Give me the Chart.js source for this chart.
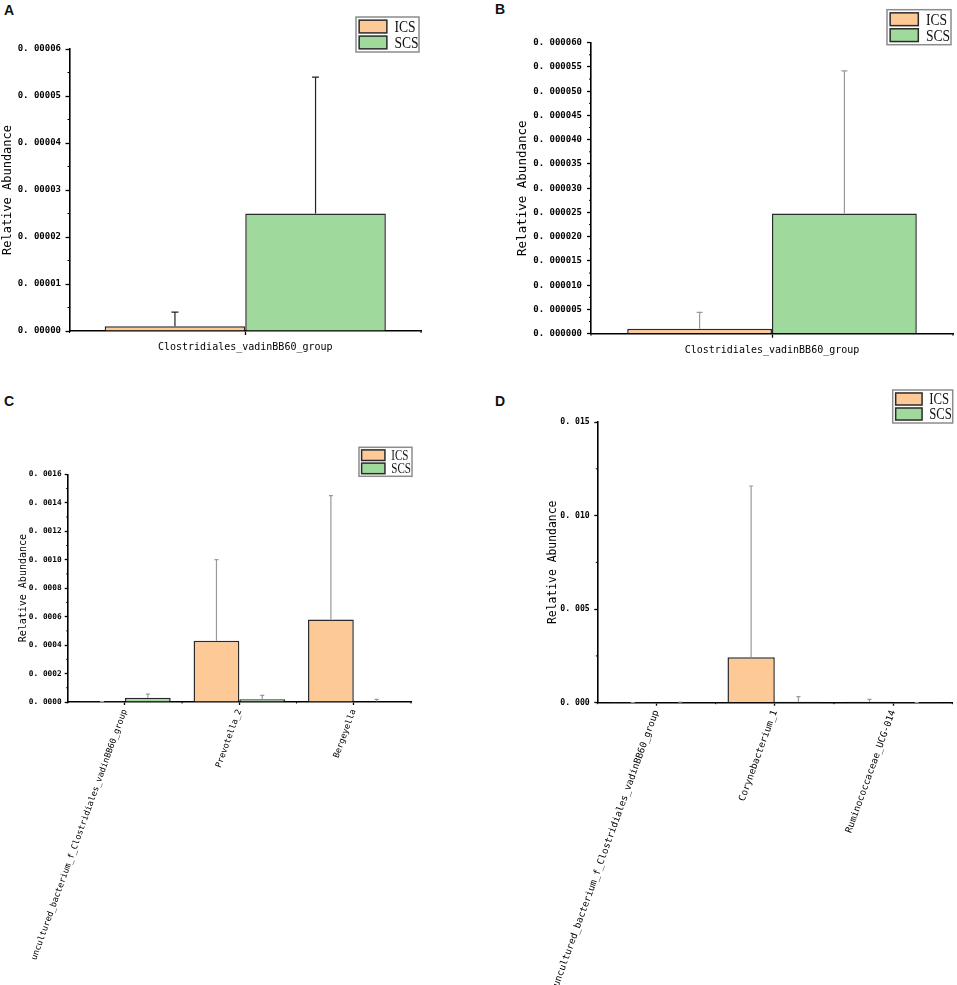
<!DOCTYPE html>
<html>
<head>
<meta charset="utf-8">
<script src="https://cdn.jsdelivr.net/npm/chart.js@4.4.1/dist/chart.umd.min.js"></script>
<style>
  html, body { margin: 0; padding: 0; background: #fff; }
  body { width: 957px; height: 985px; position: relative; overflow: hidden; }
  .panel { position: absolute; }
  .tag { position: absolute; font: bold 14px "Liberation Sans", Arial, sans-serif; line-height: 14px; color: #111; }
</style>
</head>
<body>
<div class="tag" style="left:4px;top:3px">A</div>
<div class="tag" style="left:495px;top:2px">B</div>
<div class="tag" style="left:4px;top:394px">C</div>
<div class="tag" style="left:495px;top:394px">D</div>

<div class="panel" style="left:0;top:0;width:478px;height:370px"><canvas id="chartA"></canvas></div>
<div class="panel" style="left:478px;top:0;width:479px;height:370px"><canvas id="chartB"></canvas></div>
<div class="panel" style="left:0;top:380px;width:478px;height:605px"><canvas id="chartC"></canvas></div>
<div class="panel" style="left:478px;top:380px;width:479px;height:605px"><canvas id="chartD"></canvas></div>

<script>
// panel A
const genusA = ['Clostridiales_vadinBB60_group'];
const icsA = [0.000001];
const icsErrA = [0.000003];
const scsA = [0.000025];
const scsErrA = [0.000029];

// panel B
const genusB = ['Clostridiales_vadinBB60_group'];
const icsB = [0.000001];
const icsErrB = [0.0000034];
const scsB = [0.0000248];
const scsErrB = [0.0000294];

// panel C
const genusC = ['uncultured_bacterium_f_Clostridiales_vadinBB60_group', 'Prevotella_2', 'Bergeyella'];
const icsC = [0.000001, 0.00043, 0.00058];
const icsErrC = [0.000001, 0.00057, 0.00087];
const scsC = [0.00003, 0.000019, 0.000003];
const scsErrC = [0.000026, 0.000028, 0.000016];

// panel D
const genusD = ['uncultured_bacterium_f_Clostridiales_vadinBB60_group', 'Corynebacterium_1', 'Ruminococcaceae_UCG-014'];
const icsD = [0.000005, 0.00243, 0.00005];
const icsErrD = [0.000005, 0.00915, 0.00013];
const scsD = [0.00002, 0.00005, 0.000005];
const scsErrD = [0.00001, 0.00027, 0.000005];

const MONO = '"DejaVu Sans Mono", monospace';
const ICS_FILL = '#fdc996';
const SCS_FILL = '#9fd99c';
const EDGE = '#2a2a2a';

const fmt = dec => v => v.toFixed(dec).replace('.', '. ');

// upward error bars from the bar top
Chart.register({
  id: 'errorBars',
  afterDatasetsDraw(chart, args, opts) {
    const { ctx } = chart;
    const y = chart.scales.y;
    chart.data.datasets.forEach((ds, i) => {
      chart.getDatasetMeta(i).data.forEach((bar, j) => {
        const top = y.getPixelForValue(ds.data[j] + ds.errors[j]);
        ctx.save();
        ctx.strokeStyle = opts.color;
        ctx.lineWidth = opts.width;
        ctx.beginPath();
        ctx.moveTo(bar.x, bar.y);
        ctx.lineTo(bar.x, top);
        ctx.moveTo(bar.x - opts.cap / 2, top);
        ctx.lineTo(bar.x + opts.cap / 2, top);
        ctx.stroke();
        ctx.restore();
      });
    });
  }
});

// half-step ticks on y, category boundary ticks on x
Chart.register({
  id: 'minorTicks',
  afterDraw(chart, args, opts) {
    const { ctx } = chart;
    const x = chart.scales.x, y = chart.scales.y;
    ctx.save();
    ctx.strokeStyle = '#000';
    ctx.lineWidth = 1;
    ctx.beginPath();
    const t = y.ticks;
    for (let k = 0; k < t.length - 1; k++) {
      const py = y.getPixelForValue((t[k].value + t[k + 1].value) / 2);
      ctx.moveTo(y.right - opts.len, py);
      ctx.lineTo(y.right, py);
    }
    for (let k = 0; k <= chart.data.labels.length; k++) {
      const px = x.getPixelForValue(k - 0.5);
      ctx.moveTo(px, x.top);
      ctx.lineTo(px, x.top + opts.len);
    }
    ctx.stroke();
    ctx.restore();
  }
});

// boxed legend in the top right corner
Chart.register({
  id: 'boxLegend',
  afterDraw(chart, args, o) {
    const { ctx, chartArea } = chart;
    const bx = chartArea.right + o.dx - o.w, by = chartArea.top + o.dy;
    ctx.save();
    ctx.fillStyle = '#fff';
    ctx.fillRect(bx, by, o.w, o.h);
    ctx.strokeStyle = '#8c8c8c';
    ctx.lineWidth = 1.5;
    ctx.strokeRect(bx, by, o.w, o.h);
    const pad = o.h * 0.09, sh = (o.h - 3 * pad) / 2, sw = o.w * 0.44;
    chart.data.datasets.forEach((ds, i) => {
      const sy = by + pad + i * (sh + pad);
      ctx.fillStyle = ds.backgroundColor;
      ctx.fillRect(bx + pad, sy, sw, sh);
      ctx.strokeStyle = EDGE;
      ctx.lineWidth = 1.5;
      ctx.strokeRect(bx + pad, sy, sw, sh);
      ctx.fillStyle = '#111';
      ctx.font = o.size + 'px "Liberation Serif", serif';
      ctx.textBaseline = 'middle';
      ctx.save();
      ctx.translate(bx + pad + sw + o.w * 0.12, sy + sh / 2 + 1);
      ctx.scale(0.85, 1.1);
      ctx.fillText(ds.label, 0, 0);
      ctx.restore();
    });
    ctx.restore();
  }
});

function makeChart(id, p) {
  new Chart(document.getElementById(id), {
    type: 'bar',
    data: {
      labels: p.labels,
      datasets: [
        { label: 'ICS', data: p.ics, errors: p.icsErr, backgroundColor: ICS_FILL, borderColor: EDGE,
          borderWidth: 1.5, categoryPercentage: 0.8, barPercentage: 1 },
        { label: 'SCS', data: p.scs, errors: p.scsErr, backgroundColor: SCS_FILL, borderColor: EDGE,
          borderWidth: 1.5, categoryPercentage: 0.8, barPercentage: 1 }
      ]
    },
    options: {
      responsive: true,
      maintainAspectRatio: false,
      animation: false,
      layout: { padding: p.pad },
      plugins: {
        legend: { display: false },
        tooltip: { enabled: false },
        errorBars: { color: p.errColor, width: 1.2, cap: p.cap },
        minorTicks: { len: p.tick / 2 },
        boxLegend: p.legend
      },
      scales: {
        x: {
          offset: true,
          grid: { offset: false, drawOnChartArea: false, tickLength: p.tick, color: '#000', tickWidth: 1.3 },
          border: { color: '#000', width: 1.6 },
          ticks: {
            autoSkip: false, minRotation: p.rot, maxRotation: p.rot, padding: p.xPad,
            color: '#000', font: { family: MONO, size: p.xFont }
          },
          afterFit: s => { s.height = p.xHeight; }
        },
        y: {
          min: 0,
          max: p.max,
          grid: { drawOnChartArea: false, tickLength: p.tick, color: '#000', tickWidth: 1.3 },
          border: { color: '#000', width: 1.6 },
          ticks: {
            stepSize: p.step, callback: fmt(p.dec), padding: p.yPad,
            color: '#000', font: { family: MONO, size: p.yFont, weight: 'bold' }
          },
          title: {
            display: true, text: 'Relative Abundance', color: '#000',
            font: { family: MONO, size: p.titleFont }, padding: { top: 1, bottom: 0 }
          },
          afterFit: s => { s.width = p.yWidth; }
        }
      }
    }
  });
}

makeChart('chartA', {
  labels: genusA, ics: icsA, icsErr: icsErrA, scs: scsA, scsErr: scsErrA,
  pad: { left: 0, top: 49, right: 57, bottom: 0 }, yWidth: 69.5, xHeight: 39,
  max: 0.00006, step: 0.00001, dec: 5, yFont: 9, yPad: 4.5, titleFont: 12,
  xFont: 10, xPad: 6, rot: 0, tick: 4, errColor: '#222', cap: 7,
  legend: { dx: -2, dy: -32, w: 63, h: 35, size: 16 }
});

makeChart('chartB', {
  labels: genusB, ics: icsB, icsErr: icsErrB, scs: scsB, scsErr: scsErrB,
  pad: { left: 36, top: 42.7, right: 4, bottom: 0 }, yWidth: 77, xHeight: 36.3,
  max: 0.00006, step: 0.000005, dec: 6, yFont: 9, yPad: 5, titleFont: 12.5,
  xFont: 10, xPad: 7, rot: 0, tick: 4, errColor: '#999', cap: 6,
  legend: { dx: -2, dy: -33, w: 64, h: 35, size: 16 }
});

makeChart('chartC', {
  labels: genusC, ics: icsC, icsErr: icsErrC, scs: scsC, scsErr: scsErrC,
  pad: { left: 16, top: 94.3, right: 67, bottom: 0 }, yWidth: 51.7, xHeight: 283,
  max: 0.0016, step: 0.0002, dec: 4, yFont: 7.8, yPad: 3, titleFont: 10,
  xFont: 8.5, xPad: 3, rot: 70, tick: 3, errColor: '#999', cap: 4,
  legend: { dx: 1, dy: -27, w: 53, h: 29, size: 13 }
});

makeChart('chartD', {
  labels: genusD, ics: icsD, icsErr: icsErrD, scs: scsD, scsErr: scsErrD,
  pad: { left: 67, top: 42, right: 4.7, bottom: 0 }, yWidth: 52.3, xHeight: 282.3,
  max: 0.015, step: 0.005, dec: 3, yFont: 8.2, yPad: 4.5, titleFont: 11.4,
  xFont: 9.4, xPad: 3, rot: 70, tick: 3, errColor: '#999', cap: 4,
  legend: { dx: 0.4, dy: -32, w: 60, h: 33, size: 15 }
});
</script>
</body>
</html>
